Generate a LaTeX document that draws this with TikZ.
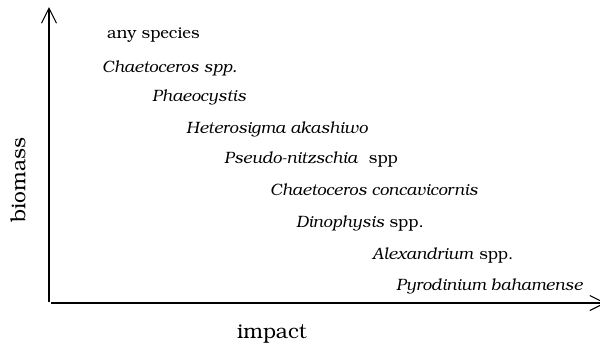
\documentclass[tikz,border=0pt]{standalone}
\usepackage[T1]{fontenc}
\usepackage{bookman}
\usetikzlibrary{arrows.meta}
\begin{document}
\begin{tikzpicture}[x=1bp,y=-1bp,
  axis/.style={line width=1.1bp,-{Straight Barb[length=15bp,width=15bp,line width=1.1bp]}},
  sp/.style={anchor=base west,inner sep=0pt,font=\fontsize{16.5}{19}\selectfont},
  lab/.style={inner sep=0pt,font=\fontsize{21}{24}\selectfont}]
\useasboundingbox (0,0) rectangle (600,349);
\coordinate (o1) at (49,302);
\coordinate (ytop) at (49,7);
\coordinate (o2) at (51,303);
\coordinate (xend) at (606,303);
\draw[axis] (o1) -- (ytop);
\draw[axis] (o2) -- (xend);
\node[sp] (n1) at (107,38) {any species};
\node[sp] (n2) at (102,72) {\itshape Chaetoceros spp.};
\node[sp] (n3) at (152,101) {\itshape Phaeocystis};
\node[sp] (n4) at (186,133) {\itshape Heterosigma akashiwo};
\node[sp] (n5) at (224,163) {\textit{Pseudo-nitzschia}\ \ spp};
\node[sp] (n6) at (270,195) {\itshape Chaetoceros concavicornis};
\node[sp] (n7) at (296,227) {\textit{Dinophysis} spp.};
\node[sp] (n8) at (372,259) {\textit{Alexandrium} spp.};
\node[sp] (n9) at (396,290) {\itshape Pyrodinium bahamense};
\node[lab] (imp) at (272,334) {impact};
\node[lab,rotate=90] (bio) at (18,180) {biomass};
\end{tikzpicture}
\end{document}
